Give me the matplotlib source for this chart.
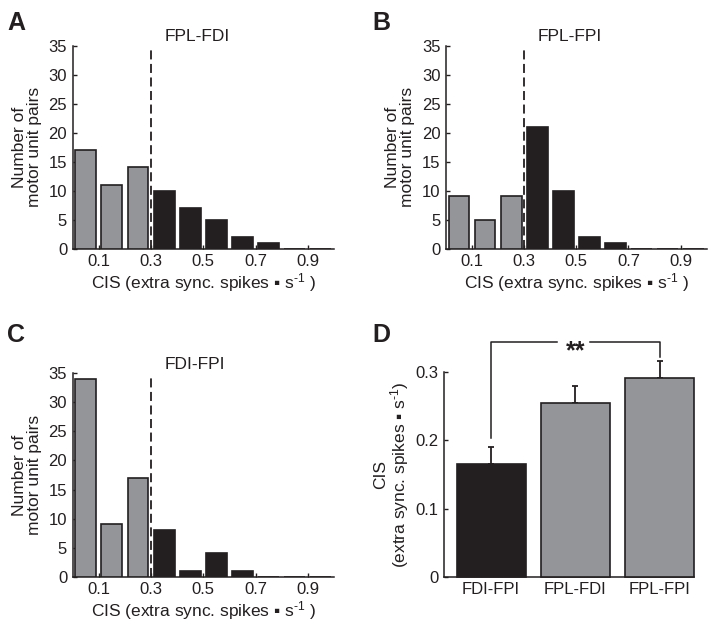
import matplotlib
matplotlib.use('Agg')
import matplotlib.pyplot as plt
import numpy as np

plt.rcParams['font.family'] = ['Liberation Sans', 'DejaVu Sans']
plt.rcParams['mathtext.fontset'] = 'custom'
plt.rcParams['mathtext.rm'] = 'Liberation Sans'
plt.rcParams['mathtext.it'] = 'Liberation Sans:italic'

# histogram data (counts per 0.1 bin of CIS)
bin_centers = [0.05, 0.15, 0.25, 0.35, 0.45, 0.55, 0.65, 0.75, 0.85, 0.95]
counts_fpl_fdi = [17, 11, 14, 10, 7, 5, 2, 1, 0, 0]
counts_fpl_fpi = [9, 5, 9, 21, 10, 2, 1, 0, 0, 0]
counts_fdi_fpi = [34, 9, 17, 8, 1, 4, 1, 0, 0, 0]
hist_titles = ['FPL-FDI', 'FPL-FPI', 'FDI-FPI']
threshold = 0.3
xtick_vals = [0.1, 0.3, 0.5, 0.7, 0.9]
ytick_vals = [0, 5, 10, 15, 20, 25, 30, 35]

# summary data (panel D)
pair_names = ['FDI-FPI', 'FPL-FDI', 'FPL-FPI']
cis_mean = [0.166, 0.255, 0.292]
cis_sem = [0.024, 0.025, 0.025]

GRAY = '#939598'
BLACK = '#231f20'
TXT = '#231f20'

xlab = 'CIS (extra sync. spikes \u25aa s$^{\\text{-}1}$ )'

fig = plt.figure(figsize=(7.14, 6.24), dpi=100)

pos = {'A': [0.1018, 0.6015, 0.366, 0.3253],
       'B': [0.6246, 0.6015, 0.3651, 0.3253],
       'C': [0.1018, 0.0758, 0.366, 0.326],
       'D': [0.6223, 0.0758, 0.350, 0.3276]}


def style_axes(ax, fs=12):
    for s in ['top', 'right']:
        ax.spines[s].set_visible(False)
    for s in ['left', 'bottom']:
        ax.spines[s].set_linewidth(1.1)
        ax.spines[s].set_color(BLACK)
    ax.tick_params(direction='in', length=3, width=1, colors=BLACK,
                   labelcolor=TXT, labelsize=fs, pad=4)


for key, counts, title in zip(['A', 'B', 'C'],
                              [counts_fpl_fdi, counts_fpl_fpi, counts_fdi_fpi],
                              hist_titles):
    ax = fig.add_axes(pos[key])
    cols = [GRAY if c < threshold else BLACK for c in bin_centers]
    ax.bar(bin_centers, counts, width=0.08, color=cols, edgecolor=BLACK,
           linewidth=1.2, zorder=3)
    ax.plot([threshold, threshold], [0, 34.5], color=BLACK, lw=1.3,
            dashes=(5, 2.5), zorder=2)
    ax.text(threshold + 0.05, 35.3, title, ha='left', va='bottom',
            fontsize=12.5, color=TXT)
    ax.set_xlim(0, 1.0)
    ax.set_ylim(0, 35)
    ax.set_xticks(xtick_vals)
    ax.set_xticklabels([str(v) for v in xtick_vals])
    ax.set_yticks(ytick_vals)
    style_axes(ax)
    ax.set_xlabel(xlab, fontsize=12.5, color=TXT, labelpad=1.5)
    ax.set_ylabel('Number of\nmotor unit pairs', fontsize=12.5, color=TXT,
                  labelpad=5, linespacing=1.0)

# panel D
ax = fig.add_axes(pos['D'])
xd = np.arange(1, len(pair_names) + 1)
ax.bar(xd, cis_mean, width=0.82, color=[BLACK, GRAY, GRAY], edgecolor=BLACK,
       linewidth=1.2, zorder=3, clip_on=False)
ax.errorbar(xd, cis_mean, yerr=[np.zeros(len(cis_sem)), cis_sem], fmt='none',
            ecolor=BLACK, elinewidth=1.3, capsize=2.5, capthick=1.3,
            zorder=2, clip_on=False)
ax.set_xlim(xd[0] - 0.555, xd[-1] + 0.41)
ax.set_ylim(0, 0.3)
ax.set_yticks([0, 0.1, 0.2, 0.3])
ax.set_yticklabels(['0', '0.1', '0.2', '0.3'])
ax.set_xticks(xd)
ax.set_xticklabels(pair_names)
style_axes(ax, fs=12)
ax.tick_params(axis='x', length=0)
ax.set_ylabel('CIS\n(extra sync. spikes \u25aa s$^{\\text{-}1}$)', fontsize=12.5,
              color=TXT, labelpad=3, linespacing=1.0)

# significance bracket between first and last bar
top = max(m + e for m, e in zip(cis_mean, cis_sem)) + 0.027
left_y = cis_mean[0] + cis_sem[0] + 0.013
right_y = cis_mean[-1] + cis_sem[-1] + 0.006
ax.plot([xd[0], xd[0], 1.78], [left_y, top, top], color=BLACK, lw=1.1,
        clip_on=False)
ax.plot([2.17, xd[-1], xd[-1]], [top, top, right_y], color=BLACK, lw=1.1,
        clip_on=False)
ax.text((xd[0] + xd[-1]) / 2, top - 0.013, '**', ha='center', va='center',
        fontsize=18, fontweight='bold', color=TXT)

# panel letters
for lab, (x, y) in zip('ABCD', [(0.01, 0.982), (0.522, 0.982),
                                (0.01, 0.482), (0.522, 0.482)]):
    fig.text(x, y, lab, fontsize=18, fontweight='bold', color=TXT,
             ha='left', va='top')

plt.savefig('out.png', dpi=100)
